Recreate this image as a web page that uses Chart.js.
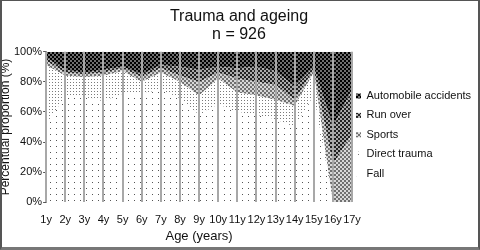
<!DOCTYPE html>
<html><head><meta charset="utf-8">
<script src="https://cdn.jsdelivr.net/npm/chart.js@4"></script>
<style>
html,body{margin:0;padding:0;background:#fff;}
#wrap{position:relative;width:480px;height:250px;}
#frame{position:absolute;left:0;top:0;width:480px;height:250px;box-sizing:border-box;border-top:1px solid #555;border-left:2px solid #555;border-right:2px solid #555;border-bottom:3px solid #777;pointer-events:none;}
canvas{position:absolute;left:0;top:0;}
</style></head><body>
<div id="wrap"><canvas id="c" width="480" height="250"></canvas><div id="frame"></div></div>
<script>
const ages = ['1y','2y','3y','4y','5y','6y','7y','8y','9y','10y','11y','12y','13y','14y','15y','16y','17y'];
const fall        = [52,70,70,67,72,72,75,69,58,65,60,58,55,50,71,0,0];
const directTrauma= [39,14,13,17,15,8,11,11,13,17,13,13,13,14,15,0,0];
const sports      = [3,2,2,2,2,3,3,4,9,4,9,9,10,4,2,25,45];
const runOver     = [2,2,1,2,1,2,2,6,8,4,7,10,9,9,2,25,30];
const automobile  = [4,12,14,12,10,15,9,10,12,10,11,10,13,23,10,50,25];
const yTicks = [0,10,20,30,40,50,60,70,80,90,100];

function makePattern(size, draw){
  const c = document.createElement('canvas');
  c.width = size; c.height = size;
  const g = c.getContext('2d');
  draw(g);
  return g.createPattern(c, 'repeat');
}
function px(g, x, y, w, h, col){ g.fillStyle = col; g.fillRect(x, y, w, h); }

const pFall = makePattern(6, g => { px(g,0,0,6,6,'#fff'); px(g,2,2,1,1,'#555'); });
const pDirect = makePattern(3, g => { px(g,0,0,3,3,'#fff'); px(g,1,1,1,1,'#7a7a7a'); });
const pSports = makePattern(4, g => { px(g,0,0,4,4,'#d8d8d8'); px(g,0,0,2,2,'#707070'); px(g,2,2,2,2,'#707070'); });
const pRun = makePattern(4, g => { px(g,0,0,4,4,'#aaaaaa'); px(g,0,0,2,2,'#222'); px(g,2,2,2,2,'#222'); });
const pAuto = makePattern(4, g => { px(g,0,0,4,4,'#6e6e6e'); px(g,0,0,2,2,'#000'); px(g,2,2,2,2,'#000'); });

const FONT = "'Liberation Sans', Arial, sans-serif";

new Chart(document.getElementById('c'), {
  type: 'line',
  data: {
    labels: ages,
    datasets: [
      {label:'Fall', data: fall, backgroundColor: pFall, fill: 'origin'},
      {label:'Direct trauma', data: directTrauma, backgroundColor: pDirect, fill: '-1'},
      {label:'Sports', data: sports, backgroundColor: pSports, fill: '-1'},
      {label:'Run over', data: runOver, backgroundColor: pRun, fill: '-1'},
      {label:'Automobile accidents', data: automobile, backgroundColor: pAuto, fill: '-1'}
    ].map(d => Object.assign(d, {borderWidth: 0, pointRadius: 0, tension: 0}))
  },
  options: {
    responsive: false,
    animation: false,
    layout: {padding: {left: 0, right: 2, top: 0, bottom: 6}},
    plugins: {
      title: {
        display: true,
        text: ['Trauma and ageing', 'n = 926'],
        color: '#111',
        font: {family: FONT, size: 16, weight: 'normal', lineHeight: 1.15},
        padding: {top: 7, bottom: 8}
      },
      legend: {
        position: 'right',
        reverse: true,
        maxWidth: 126,
        title: {display: true, text: '', font: {size: 10, lineHeight: 1}, padding: {top: 10, bottom: 10}},
        labels: {
          color: '#111',
          font: {family: FONT, size: 11, lineHeight: 1.4},
          boxWidth: 5, boxHeight: 5,
          padding: 4,
          generateLabels: chart => {
            const items = Chart.defaults.plugins.legend.labels.generateLabels(chart);
            items.forEach(it => { it.text = [it.text]; it.lineWidth = 0; });
            return items;
          }
        }
      },
      tooltip: {enabled: false}
    },
    scales: {
      x: {
        offset: false,
        grid: {display: true, color: '#a8a8a8', lineWidth: 2, drawTicks: false, z: 1},
        border: {display: false},
        ticks: {color: '#111', font: {family: FONT, size: 11}, padding: 11, maxRotation: 0, autoSkip: false},
        title: {display: true, text: 'Age (years)', color: '#111', font: {family: FONT, size: 13}, padding: {top: -9, bottom: 0}}
      },
      y: {
        stacked: true,
        min: 0, max: 100,
        afterBuildTicks: s => { s.ticks = yTicks.map(v => ({value: v})); },
        grid: {drawOnChartArea: false, drawTicks: true, tickLength: 3, color: '#555'},
        border: {display: true, color: '#999', width: 1},
        ticks: {color: '#111', font: {family: FONT, size: 11}, padding: 1, callback: v => v + '%'},
        title: {display: true, text: 'Percentual proportion (%)', color: '#111', font: {family: FONT, size: 12, lineHeight: 1}, padding: {top: 0, bottom: 1}}
      }
    }
  }
});
</script>
</body></html>
